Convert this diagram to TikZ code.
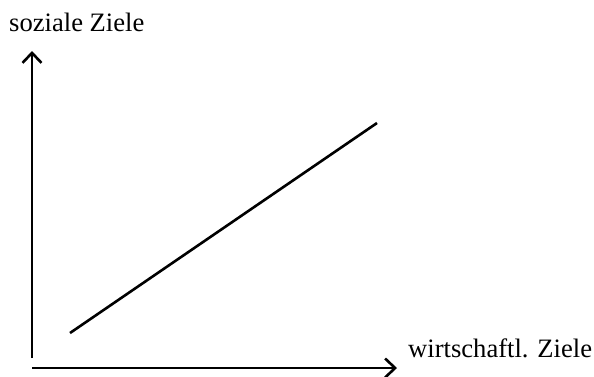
\documentclass[tikz,border=0pt]{standalone}
\usepackage{fontspec}
\setmainfont{Liberation Serif}
\usetikzlibrary{arrows.meta,positioning}

\begin{document}
\begin{tikzpicture}[
    x=1pt, y=-1pt,
    lbl/.style={inner sep=0pt, font=\fontsize{26.6}{30}\selectfont},
    axis/.style={-{Straight Barb[length=10pt, width=19pt, line width=2.6pt]}, line width=2.6pt},
    trend/.style={line width=2.6pt}
]
    \useasboundingbox (0,0) rectangle (594,376);
    \coordinate (ybot) at (32,358);
    \coordinate (ytop) at (32,51);
    \coordinate (xleft) at (32,368);
    \coordinate (xright) at (397,368);
    \coordinate (lstart) at (70,333);
    \coordinate (lend) at (377,123);

    \node[lbl, anchor=base west] (ylab) at (9,31) {soziale Ziele};
    \node[lbl, anchor=base west] (xlab) at (408,357) {wirtschaftl. Ziele};

    \draw[axis] (ybot) -- (ytop);
    \draw[axis] (xleft) -- (xright);
    \draw[trend] (lstart) -- (lend);
\end{tikzpicture}
\end{document}
